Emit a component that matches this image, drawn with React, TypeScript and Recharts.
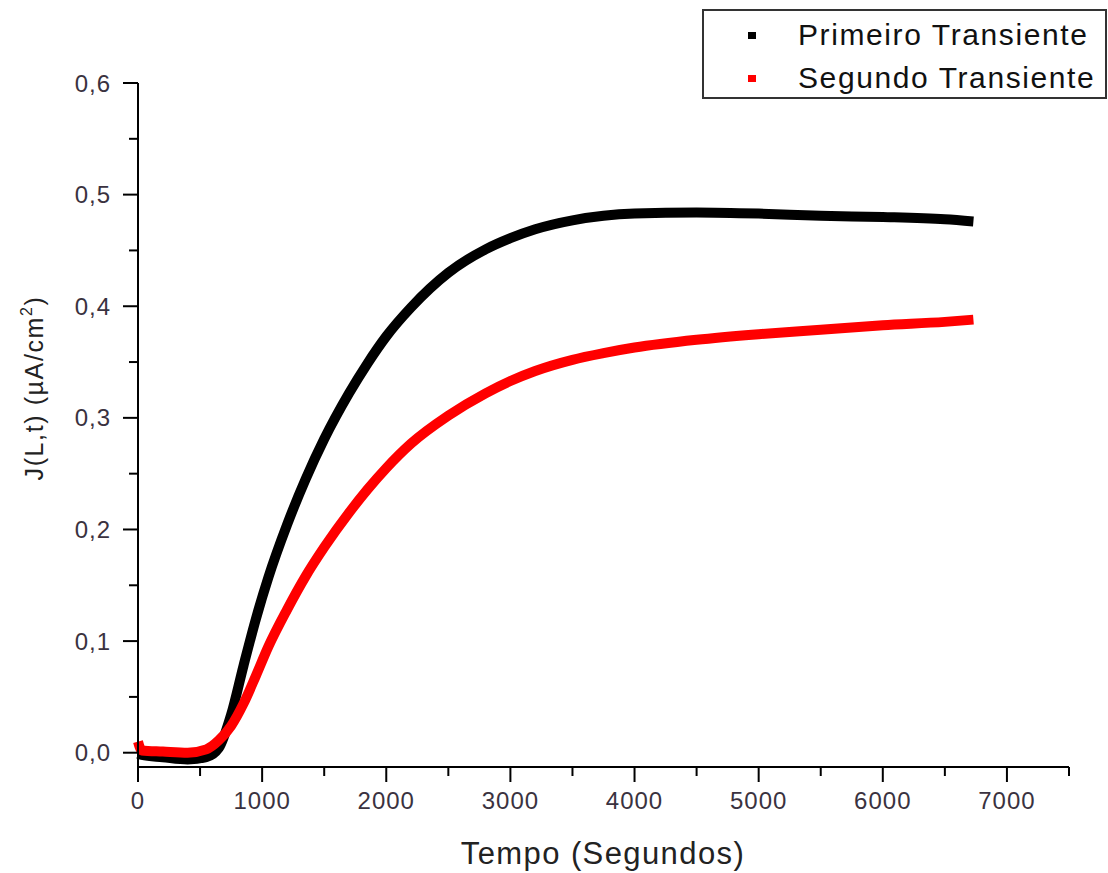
import { Line, LineChart, XAxis, YAxis } from "recharts";

// tempo em segundos
const tempo = [0, 30, 200, 400, 550, 650, 750, 850, 950, 1050, 1200, 1350, 1500, 1700, 1850, 2000, 2200, 2500, 2800, 3000, 3200, 3500, 3750, 4000, 4500, 5000, 5500, 6000, 6500, 6730];
const primeiro = [-0.001, -0.002, -0.004, -0.006, -0.004, 0.004, 0.034, 0.078, 0.12, 0.157, 0.204, 0.245, 0.281, 0.322, 0.349, 0.373, 0.399, 0.43, 0.451, 0.461, 0.469, 0.477, 0.481, 0.483, 0.484, 0.483, 0.481, 0.48, 0.478, 0.476];
const segundo = [0.01, 0.002, 0.001, 0.0, 0.003, 0.011, 0.024, 0.044, 0.069, 0.095, 0.128, 0.158, 0.184, 0.215, 0.236, 0.255, 0.277, 0.302, 0.322, 0.333, 0.342, 0.352, 0.358, 0.363, 0.37, 0.375, 0.379, 0.383, 0.386, 0.388];

const xTicks = [0, 500, 1000, 1500, 2000, 2500, 3000, 3500, 4000, 4500, 5000, 5500, 6000, 6500, 7000, 7500];
const yTicks = [0, 0.05, 0.1, 0.15, 0.2, 0.25, 0.3, 0.35, 0.4, 0.45, 0.5, 0.55, 0.6];

const series = [
  { key: "primeiro", name: "Primeiro Transiente", color: "#000000" },
  { key: "segundo", name: "Segundo Transiente", color: "#ff0000" },
];

const data = tempo.map((t, i) => ({ t, primeiro: primeiro[i], segundo: segundo[i] }));

const font = "Arial, 'Liberation Sans', sans-serif";
const tickColor = "#3a3240";

const XTick = ({ x, y, payload }: any) => {
  const major = payload.value % 1000 === 0;
  return (
    <g>
      <line x1={x} x2={x} y1={y} y2={y + (major ? 15 : 9)} stroke="#000" strokeWidth={2} />
      {major && (
        <text x={x} y={y + 42} textAnchor="middle" fontSize={24} letterSpacing={1} fill={tickColor} fontFamily={font}>
          {payload.value}
        </text>
      )}
    </g>
  );
};

const YTick = ({ x, y, payload }: any) => {
  const major = Math.round(payload.value * 100) % 10 === 0;
  return (
    <g>
      <line x1={x - (major ? 15 : 9)} x2={x} y1={y} y2={y} stroke="#000" strokeWidth={2} />
      {major && (
        <text x={x - 27} y={y + 8.5} textAnchor="end" fontSize={24} letterSpacing={1} fill={tickColor} fontFamily={font}>
          {payload.value.toFixed(1).replace(".", ",")}
        </text>
      )}
    </g>
  );
};

const App = () => {
  return (
    <div style={{ position: "absolute", left: 0, top: 0, width: 1108, height: 873, background: "#fff" }}>
      <LineChart width={1108} height={873} data={data} margin={{ top: 83, right: 39, left: 0, bottom: 0 }}>
        <XAxis
          dataKey="t"
          type="number"
          domain={[0, 7500]}
          ticks={xTicks}
          interval={0}
          tickSize={0}
          tickMargin={0}
          tickLine={false}
          tick={XTick}
          height={106}
          axisLine={{ stroke: "#000", strokeWidth: 2 }}
          label={{
            content: () => (
              <text x={603} y={864} textAnchor="middle" fontSize={31} letterSpacing={1.4} fill="#222" fontFamily={font}>
                Tempo (Segundos)
              </text>
            ),
          }}
        />
        <YAxis
          type="number"
          domain={[-0.0128, 0.6]}
          allowDataOverflow
          ticks={yTicks}
          interval={0}
          tickSize={0}
          tickMargin={0}
          tickLine={false}
          tick={YTick}
          width={138}
          axisLine={{ stroke: "#000", strokeWidth: 2 }}
          label={{
            content: () => (
              <text transform="translate(43,388) rotate(-90)" textAnchor="middle" fontSize={25} letterSpacing={1.6} fill="#222" fontFamily={font}>
                J(L,t) (µA/cm
                <tspan fontSize={16} dy={-11}>2</tspan>
                <tspan dy={11}>)</tspan>
              </text>
            ),
          }}
        />
        {series.map((s) => (
          <Line
            key={s.key}
            type="monotone"
            dataKey={s.key}
            name={s.name}
            stroke={s.color}
            strokeWidth={10}
            strokeLinejoin="round"
            dot={false}
            isAnimationActive={false}
          />
        ))}
      </LineChart>
      <div
        style={{
          position: "absolute",
          left: 702,
          top: 9,
          width: 401,
          height: 86,
          border: "2px solid #333",
          fontFamily: font,
          fontSize: 30,
          letterSpacing: 1.6,
          color: "#111",
        }}
      >
        {series.map((s, i) => (
          <div key={s.key} style={{ position: "absolute", left: 44, top: 6 + i * 43, height: 36, display: "flex", alignItems: "center" }}>
            <span style={{ width: 8, height: 7, background: s.color, display: "inline-block" }} />
            <span style={{ marginLeft: 42 }}>{s.name}</span>
          </div>
        ))}
      </div>
    </div>
  );
};

export default App;
